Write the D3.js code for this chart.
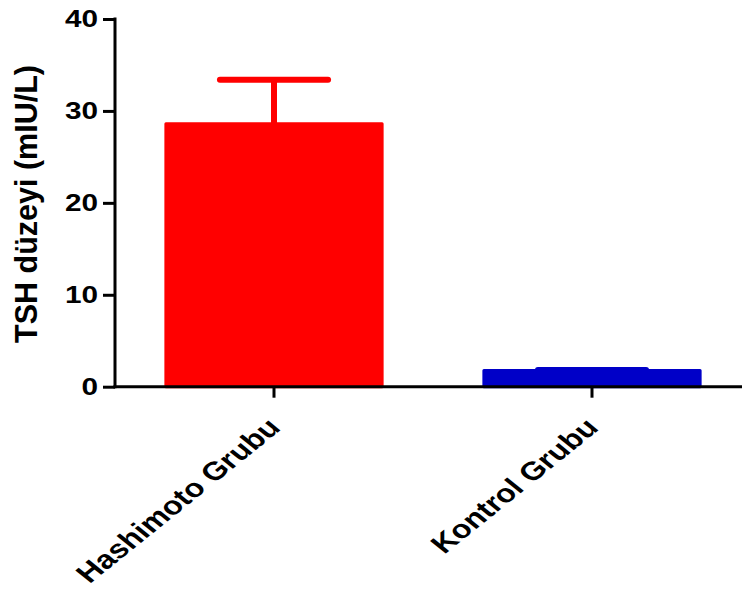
<!DOCTYPE html>
<html>
<head>
<meta charset="utf-8">
<script src="https://cdn.jsdelivr.net/npm/d3@7"></script>
<style>
  html, body { margin: 0; padding: 0; background: #fff; }
  svg { display: block; }
  text { font-family: "Liberation Sans", Arial, sans-serif; font-weight: bold; fill: #000; }
</style>
</head>
<body>
<svg id="chart" width="744" height="596"></svg>
<script>
// Group means and standard deviations of TSH (mIU/L)
const categories = ["Hashimoto Grubu", "Kontrol Grubu"];
const means = [28.6, 1.75];
const sds = [4.8, 0.08];
const colors = ["#ff0000", "#0000c8"];
const yTicks = [0, 10, 20, 30, 40];
const yLabel = "TSH düzeyi (mIU/L)";

const svg = d3.select("#chart");
const stretch = 1.24; // horizontal text stretch

const x = d3.scaleBand()
  .domain(categories)
  .range([115, 751])
  .paddingInner(0.32)
  .paddingOuter(0.16);

const y = d3.scaleLinear()
  .domain([0, 40])
  .range([386.7, 19]);

// Bars
const bars = svg.append("g");
bars.selectAll("rect")
  .data(categories)
  .join("rect")
  .attr("x", d => x(d))
  .attr("width", x.bandwidth())
  .attr("y", (d, i) => y(means[i]))
  .attr("height", (d, i) => y(0) - y(means[i]))
  .attr("fill", (d, i) => colors[i])
  .attr("stroke", (d, i) => colors[i])
  .attr("stroke-width", 3)
  .attr("stroke-linejoin", "round");

// Error bars (mean + SD)
const err = svg.append("g").attr("stroke-width", 6).attr("fill", "none");
categories.forEach((c, i) => {
  const cx = x(c) + x.bandwidth() / 2;
  const capHalf = x.bandwidth() / 4;
  err.append("line")
    .attr("x1", cx).attr("x2", cx)
    .attr("y1", y(means[i])).attr("y2", y(means[i] + sds[i]))
    .attr("stroke", colors[i]);
  err.append("line")
    .attr("x1", cx - capHalf).attr("x2", cx + capHalf)
    .attr("y1", y(means[i] + sds[i])).attr("y2", y(means[i] + sds[i]))
    .attr("stroke", colors[i])
    .attr("stroke-linecap", "round");
});

// Y axis
const yAxis = svg.append("g")
  .attr("transform", "translate(115,0)")
  .call(d3.axisLeft(y).tickValues(yTicks).tickSize(12).tickPadding(5).tickSizeOuter(0));
yAxis.select(".domain").attr("stroke-width", 3).attr("d", `M0,${y(40) - 1.5}V${y(0) + 1.5}`);
yAxis.selectAll(".tick line").attr("stroke-width", 3);
yAxis.selectAll(".tick text")
  .attr("font-size", 24)
  .attr("x", -17 / stretch)
  .attr("transform", `scale(${stretch},1)`);

// X axis
const xAxis = svg.append("g")
  .attr("transform", `translate(0,${y(0)})`)
  .call(d3.axisBottom(x).tickSize(11).tickSizeOuter(0));
xAxis.select(".domain").attr("stroke-width", 3).attr("d", "M113.5,0H742");
xAxis.selectAll(".tick line").attr("stroke-width", 3);
xAxis.selectAll(".tick text")
  .attr("font-size", 26)
  .attr("text-anchor", "end")
  .attr("x", null).attr("y", null).attr("dy", "0.35em")
  .attr("transform", `translate(0,36) scale(${stretch},1) rotate(-45)`);

// Y axis title
svg.append("text")
  .attr("transform", "translate(37,204) rotate(-90)")
  .attr("text-anchor", "middle")
  .attr("font-size", 30.5)
  .text(yLabel);
</script>
</body>
</html>
